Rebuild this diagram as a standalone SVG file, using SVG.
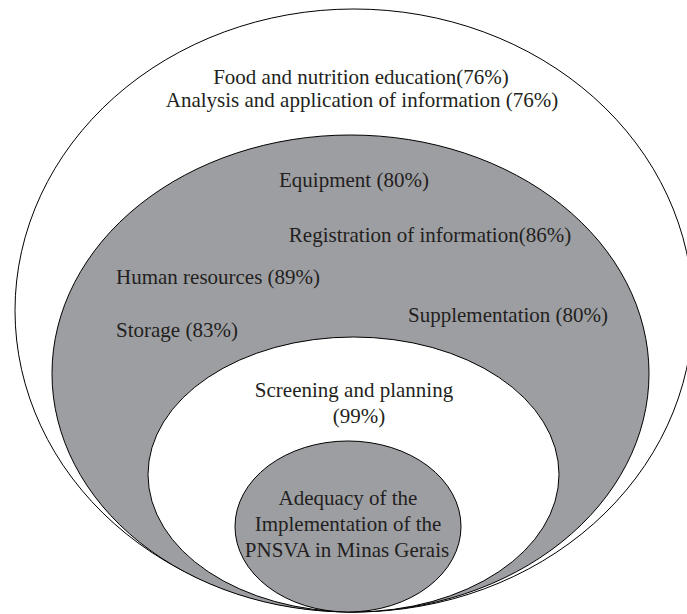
<svg xmlns="http://www.w3.org/2000/svg" width="687" height="614" viewBox="0 0 687 614">
<style>
.w{fill:#ffffff;stroke:#000;stroke-width:1}
.g{fill:#9d9ea2;stroke:#000;stroke-width:1}
text{font-family:"Liberation Serif","Times New Roman",serif;font-size:21px;fill:#231f20}
.c{text-anchor:middle}
</style>
<rect width="687" height="614" fill="#fff"/>
<g id="outer">
<ellipse class="w" cx="354" cy="310.5" rx="339" ry="301.5"/>
<text class="c" x="361" y="84">Food and nutrition education(76%)</text>
<text class="c" x="362" y="107">Analysis and application of information (76%)</text>
</g>
<g id="middle">
<ellipse class="g" cx="350.5" cy="373.5" rx="298.5" ry="238.5"/>
<text class="c" x="354" y="187">Equipment (80%)</text>
<text class="c" x="430" y="242">Registration of information(86%)</text>
<text x="116" y="284">Human resources (89%)</text>
<text x="408" y="322">Supplementation (80%)</text>
<text x="116" y="337">Storage (83%)</text>
</g>
<g id="inner">
<ellipse class="w" cx="353.5" cy="474.5" rx="205.5" ry="137.5"/>
<text class="c" x="354" y="397">Screening and planning</text>
<text class="c" x="359" y="423">(99%)</text>
</g>
<g id="core">
<ellipse class="g" cx="348" cy="526.5" rx="113" ry="85.5"/>
<text class="c" x="348" y="505">Adequacy of the</text>
<text class="c" x="348" y="531">Implementation of the</text>
<text class="c" x="347" y="557">PNSVA in Minas Gerais</text>
</g>
<g id="connectors"/>
</svg>
